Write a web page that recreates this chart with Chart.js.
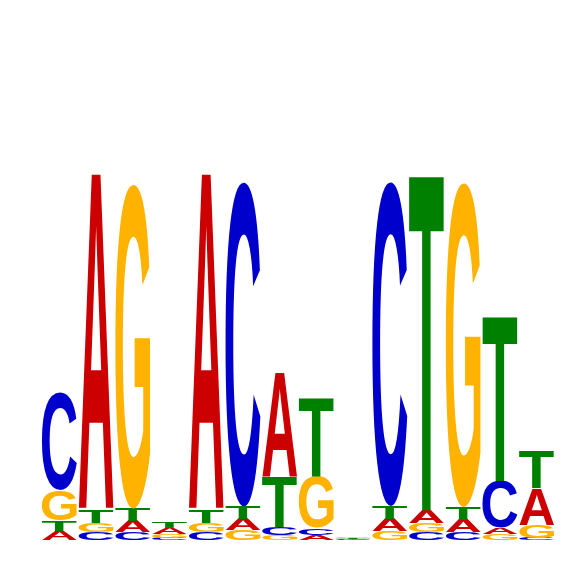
<!DOCTYPE html>
<html>
<head>
<meta charset="utf-8">
<script src="https://cdn.jsdelivr.net/npm/chart.js@4"></script>
<style>
  body { margin: 0; background: #fff; }
</style>
</head>
<body>
<canvas id="logo" width="566" height="566"></canvas>
<script>
// letter heights in bits, one value per position
const positions = ['1','2','3','4','5','6','7','8','9','10','11','12','13','14'];
const bitsA = [0.050, 1.844, 0.061, 0.031, 1.844, 0.061, 0.572, 0.028, 0.002, 0.067, 0.072, 0.067, 0.036, 0.200];
const bitsC = [0.533, 0.044, 0.044, 0.011, 0.044, 1.778, 0.044, 0.039, 0.003, 1.778, 0.044, 0.044, 0.256, 0.011];
const bitsG = [0.167, 0.047, 1.778, 0.022, 0.047, 0.056, 0.028, 0.283, 0.008, 0.050, 0.047, 1.778, 0.033, 0.072];
const bitsT = [0.056, 0.072, 0.067, 0.033, 0.072, 0.067, 0.272, 0.433, 0.006, 0.069, 1.844, 0.069, 0.906, 0.206];

const letters = ['A', 'C', 'G', 'T'];
const letterColors = {A: '#cc0000', C: '#0000cc', G: '#ffb300', T: '#008000'};
const allBits = {A: bitsA, C: bitsC, G: bitsG, T: bitsT};

// measure each glyph once so it can be stretched into its box
const glyphFont = 'bold 200px "Liberation Sans", Arial, sans-serif';
function measureGlyphs(ctx) {
    const out = {};
    ctx.save();
    ctx.font = glyphFont;
    letters.forEach((l) => {
        const m = ctx.measureText(l);
        out[l] = {
            left: m.actualBoundingBoxLeft,
            w: m.actualBoundingBoxLeft + m.actualBoundingBoxRight,
            asc: m.actualBoundingBoxAscent,
            h: m.actualBoundingBoxAscent + m.actualBoundingBoxDescent
        };
    });
    ctx.restore();
    return out;
}

const logoPlugin = {
    id: 'logoLetters',
    afterDatasetsDraw(chart) {
        const ctx = chart.ctx;
        const x = chart.scales.x;
        const y = chart.scales.y;
        const glyphs = measureGlyphs(ctx);
        const slot = x.getPixelForValue(1) - x.getPixelForValue(0);
        const w = slot * 0.95;
        positions.forEach((p, i) => {
            // smallest letter at the bottom
            const stack = letters.map((l) => ({l: l, v: allBits[l][i]}))
                .sort((a, b) => a.v - b.v);
            let base = 0;
            const cx = x.getPixelForValue(i);
            stack.forEach((s) => {
                const yTop = y.getPixelForValue(base + s.v);
                const yBot = y.getPixelForValue(base);
                base += s.v;
                const h = yBot - yTop;
                if (h <= 0) return;
                const g = glyphs[s.l];
                ctx.save();
                ctx.translate(cx - w / 2, yTop);
                ctx.scale(w / g.w, h / g.h);
                ctx.font = glyphFont;
                ctx.textBaseline = 'alphabetic';
                ctx.textAlign = 'left';
                ctx.fillStyle = letterColors[s.l];
                ctx.fillText(s.l, g.left, g.asc);
                ctx.restore();
            });
        });
    }
};

new Chart(document.getElementById('logo'), {
    type: 'bar',
    data: {
        labels: positions,
        datasets: letters.map((l) => ({
            label: l,
            data: allBits[l],
            backgroundColor: 'rgba(0,0,0,0)',
            borderWidth: 0
        }))
    },
    options: {
        responsive: false,
        animation: false,
        layout: { padding: { left: 41, right: 11, top: 0, bottom: 26 } },
        plugins: { legend: { display: false }, tooltip: { enabled: false } },
        scales: {
            x: { display: false, stacked: true },
            y: { display: false, stacked: true, min: 0, max: 2.96 }
        }
    },
    plugins: [logoPlugin]
});
</script>
</body>
</html>
